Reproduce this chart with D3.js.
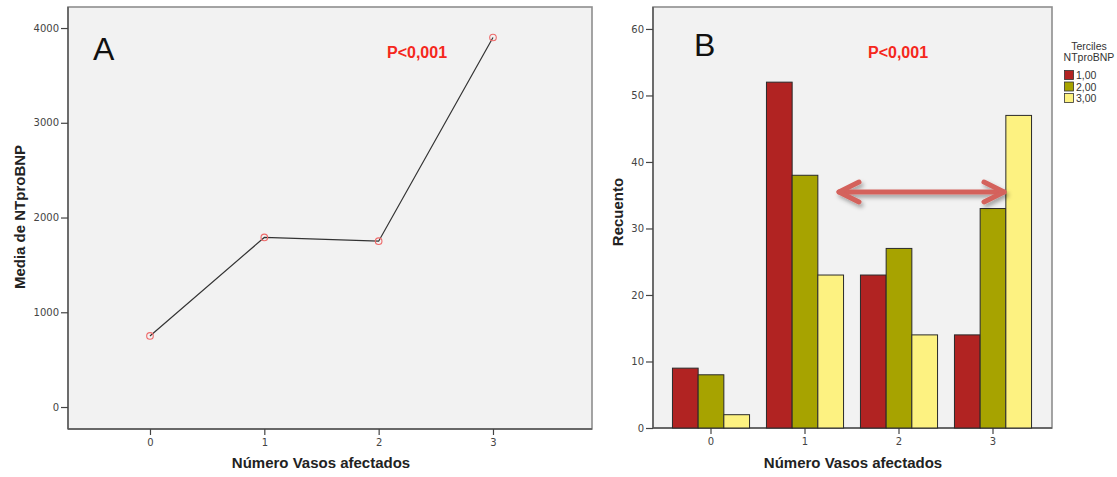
<!DOCTYPE html>
<html><head><meta charset="utf-8">
<script src="https://cdn.jsdelivr.net/npm/d3@7"></script>
<style>body{margin:0;background:#fff}svg{display:block}</style>
</head><body>
<svg id="c" width="1117" height="477"></svg>
<script>
// ---- data ----
const vessels = [0, 1, 2, 3];
const meanNTproBNP = [750, 1790, 1750, 3900];
const yTicksA = [0, 1000, 2000, 3000, 4000];
const tercileNames = ["1,00", "2,00", "3,00"];
const countsT1 = [9, 52, 23, 14];
const countsT2 = [8, 38, 27, 33];
const countsT3 = [2, 23, 14, 47];
const yTicksB = [0, 10, 20, 30, 40, 50, 60];
const pText = "P<0,001";

const svg = d3.select("#c");
const defs = svg.append("defs");
const f = defs.append("filter").attr("id","sh").attr("x","-10%").attr("y","-50%").attr("width","120%").attr("height","200%");
f.append("feDropShadow").attr("dx",2).attr("dy",3).attr("stdDeviation",2).attr("flood-color","#000").attr("flood-opacity",0.35);

const tickFont = "DejaVu Sans, sans-serif";
const titleFont = "Liberation Sans, Arial, sans-serif";

function frame(x0,x1,y0,y1){
  svg.append("rect").attr("x",x0).attr("y",y0).attr("width",x1-x0).attr("height",y1-y0)
    .attr("fill","#f2f2f2").attr("stroke","#8e8e8e").attr("stroke-width",1.6);
}
function styleAxis(g){
  g.select(".domain").remove();
  g.selectAll(".tick line").attr("stroke","#444").attr("stroke-width",1.2);
  g.selectAll(".tick text").attr("fill","#444").style("font-family",tickFont).style("font-size","10px");
}

// ---------- Panel A ----------
const A = {x0:68, x1:592, y0:7, y1:429};
frame(A.x0,A.x1,A.y0,A.y1);
const xA = d3.scaleLinear().domain([-0.717, 3.866]).range([A.x0, A.x1]);
const yA = d3.scaleLinear().domain([-232, 4222]).range([A.y1, A.y0]);
svg.append("line").attr("x1",A.x0).attr("x2",A.x0).attr("y1",A.y0).attr("y2",A.y1).attr("stroke","#555").attr("stroke-width",1.4);
svg.append("line").attr("x1",A.x0).attr("x2",A.x1).attr("y1",A.y1).attr("y2",A.y1).attr("stroke","#555").attr("stroke-width",1.4);
svg.append("g").attr("transform",`translate(${A.x0},0)`)
  .call(d3.axisLeft(yA).tickValues(yTicksA).tickSize(7).tickPadding(2).tickFormat(d3.format("d"))).call(styleAxis);
svg.append("g").attr("transform",`translate(0,${A.y1})`)
  .call(d3.axisBottom(xA).tickValues(vessels).tickSize(6).tickPadding(4).tickFormat(d3.format("d"))).call(styleAxis);

const ptsA = vessels.map((v,i)=>[xA(v), yA(meanNTproBNP[i])]);
svg.append("path").attr("d", d3.line()(ptsA)).attr("fill","none").attr("stroke","#333").attr("stroke-width",1.2);
svg.selectAll(".ptA").data(ptsA).enter().append("circle")
  .attr("cx",d=>d[0]).attr("cy",d=>d[1]).attr("r",3.3)
  .attr("fill","none").attr("stroke","#ee6a6a").attr("stroke-width",1.1);

svg.append("text").attr("x",93).attr("y",60).text("A")
  .style("font-family",titleFont).style("font-size","32px").attr("fill","#111");
svg.append("text").attr("x",387).attr("y",58).text(pText)
  .style("font-family",titleFont).style("font-size","16px").style("font-weight","bold").attr("fill","#f5281c");
svg.append("text").attr("transform","translate(25,217) rotate(-90)").attr("text-anchor","middle")
  .text("Media de NTproBNP").style("font-family",titleFont).style("font-size","15px").style("font-weight","bold").attr("fill","#222");
svg.append("text").attr("x",321).attr("y",468).attr("text-anchor","middle")
  .text("Número Vasos afectados").style("font-family",titleFont).style("font-size","15px").style("font-weight","bold").attr("fill","#222");

// ---------- Panel B ----------
const B = {x0:653, x1:1052, y0:7, y1:428};
frame(B.x0,B.x1,B.y0,B.y1);
const yB = d3.scaleLinear().domain([0, 63.3]).range([B.y1, B.y0]);
const xB = d3.scaleBand().domain(vessels).range([664, 1040]).paddingInner(0.18).paddingOuter(0.09);
const xSub = d3.scaleBand().domain(tercileNames).range([0, xB.bandwidth()]);
const colors = d3.scaleOrdinal().domain(tercileNames).range(["#b12322","#a7a300","#fdf281"]);
const seriesB = [countsT1, countsT2, countsT3];

svg.append("line").attr("x1",B.x0).attr("x2",B.x0).attr("y1",B.y0).attr("y2",B.y1).attr("stroke","#555").attr("stroke-width",1.4);
svg.append("line").attr("x1",B.x0).attr("x2",B.x1).attr("y1",B.y1).attr("y2",B.y1).attr("stroke","#555").attr("stroke-width",1.4);
svg.append("g").attr("transform",`translate(${B.x0},0)`)
  .call(d3.axisLeft(yB).tickValues(yTicksB).tickSize(7).tickPadding(2)).call(styleAxis);
svg.append("g").attr("transform",`translate(0,${B.y1})`)
  .call(d3.axisBottom(xB).tickValues(vessels).tickSize(6).tickPadding(4)).call(styleAxis);

const barData = [];
vessels.forEach((v,i)=>tercileNames.forEach((t,j)=>barData.push({v, t, val: seriesB[j][i]})));
svg.append("g").selectAll("rect").data(barData).enter().append("rect")
  .attr("x",d=>xB(d.v)+xSub(d.t)).attr("width",xSub.bandwidth())
  .attr("y",d=>yB(d.val)).attr("height",d=>yB(0)-yB(d.val))
  .attr("fill",d=>colors(d.t)).attr("stroke","#2a2a2a").attr("stroke-width",1);

svg.append("text").attr("x",694).attr("y",56).text("B")
  .style("font-family",titleFont).style("font-size","32px").attr("fill","#111");
svg.append("text").attr("x",868).attr("y",58).text(pText)
  .style("font-family",titleFont).style("font-size","16px").style("font-weight","bold").attr("fill","#f5281c");
svg.append("text").attr("transform","translate(623,212) rotate(-90)").attr("text-anchor","middle")
  .text("Recuento").style("font-family",titleFont).style("font-size","15px").style("font-weight","bold").attr("fill","#222");
svg.append("text").attr("x",853).attr("y",468).attr("text-anchor","middle")
  .text("Número Vasos afectados").style("font-family",titleFont).style("font-size","15px").style("font-weight","bold").attr("fill","#222");

// arrow
const ay = 192, ax0 = 839, ax1 = 1004;
const ag = svg.append("g").attr("filter","url(#sh)").attr("stroke","#d4625c").attr("stroke-width",5)
  .attr("stroke-linecap","round").attr("stroke-linejoin","round").attr("fill","none");
ag.append("line").attr("x1",ax0).attr("x2",ax1).attr("y1",ay).attr("y2",ay);
ag.append("path").attr("d",`M${ax0+20},${ay-10}L${ax0},${ay}L${ax0+20},${ay+10}`);
ag.append("path").attr("d",`M${ax1-20},${ay-10}L${ax1},${ay}L${ax1-20},${ay+10}`);

// legend
const lg = svg.append("g");
lg.append("text").attr("x",1089).attr("y",50).attr("text-anchor","middle").text("Terciles")
  .style("font-family",titleFont).style("font-size","10.5px").attr("fill","#333");
lg.append("text").attr("x",1089).attr("y",61).attr("text-anchor","middle").text("NTproBNP")
  .style("font-family",titleFont).style("font-size","10.5px").attr("fill","#333");
tercileNames.forEach((t,i)=>{
  lg.append("rect").attr("x",1064.5).attr("y",70.5+i*11.5).attr("width",9).attr("height",9)
    .attr("fill",colors(t)).attr("stroke","#333").attr("stroke-width",0.8);
  lg.append("text").attr("x",1076).attr("y",79+i*11.5).text(t)
    .style("font-family",titleFont).style("font-size","10.5px").attr("fill","#333");
});
</script>
</body></html>
